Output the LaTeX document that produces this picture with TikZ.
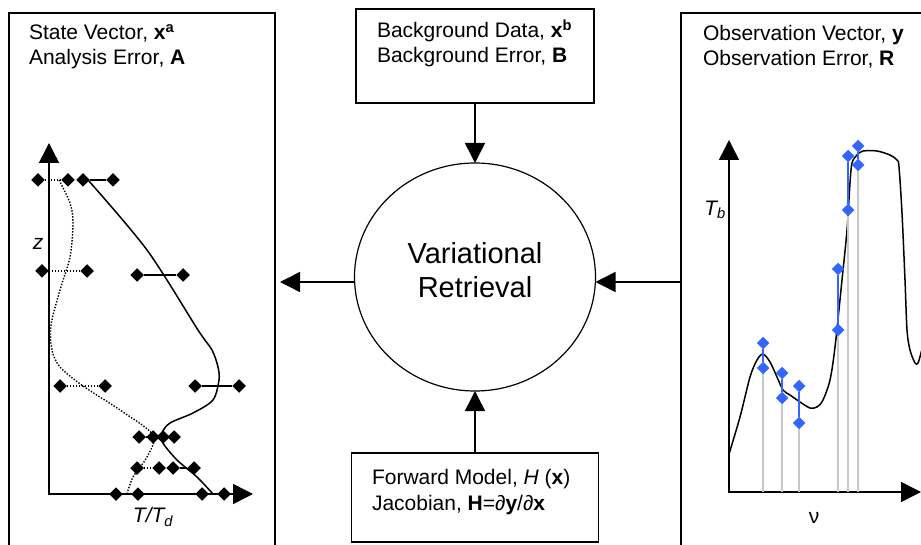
\documentclass[tikz,border=0pt]{standalone}
\usepackage{fontspec}
\setmainfont{Liberation Sans}
\usepackage{tikz}
\usetikzlibrary{positioning,calc,arrows.meta,shapes.geometric}
\definecolor{obsblue}{RGB}{51,102,255}
\definecolor{stickgray}{RGB}{200,200,200}

\begin{document}
\begin{tikzpicture}[x=1pt,y=-1pt,every node/.style={outer sep=0pt},
        box/.style={draw,rectangle,line width=1.2pt,inner sep=0pt},
        txt/.style={anchor=base west,inner sep=0pt,font=\fontsize{21}{25}\selectfont},
        lbl/.style={inner sep=0pt,font=\fontsize{21}{25}\selectfont\itshape},
        conn/.style={line width=1.5pt,-{Triangle[length=20pt,width=20pt]}},
        axes/.style={line width=1.5pt,{Triangle[length=20pt,width=20pt]}-{Triangle[length=20pt,width=20pt]}},
        dia/.style={diamond,fill=black,inner sep=0pt,minimum size=13.5pt},
        obs/.style={diamond,fill=obsblue,inner sep=0pt,minimum size=12.5pt},
        dotline/.style={line width=1.4pt,dash pattern=on 1.4pt off 1.6pt},
        stick/.style={line width=1.5pt,stickgray},
        bar/.style={line width=1.5pt,obsblue}]
   \useasboundingbox (0,0) rectangle (921,545);

   \node (vr) [draw,ellipse,line width=1.2pt,minimum width=241pt,minimum height=228pt,align=center,
      text depth=14pt,font=\fontsize{29}{34}\selectfont] at (475,277) {Variational\\Retrieval};
   \node (bg) [box,minimum width=238pt,minimum height=94pt,above=60pt of vr] {};
   \node (fm) [box,minimum width=247pt,minimum height=89pt,below=62pt of vr] {};
   \node (sv) [box,minimum width=266pt,minimum height=560pt,anchor=north west] at (9,13) {};
   \node (ov) [box,minimum width=260pt,minimum height=560pt,anchor=north west] at (681,13) {};

   \node[txt] (sv-1) at (29,40) {State Vector, \textbf{x}\textsuperscript{\textbf{a}}};
   \node[txt] (sv-2) at (29,65) {Analysis Error, \textbf{A}};
   \node[txt] (bg-1) at (377,38) {Background Data, \textbf{x}\textsuperscript{\textbf{b}}};
   \node[txt] (bg-2) at (377,63) {Background Error, \textbf{B}};
   \node[txt] (fm-1) at (372,484) {Forward Model, \textit{H} (\textbf{x})};
   \node[txt] (fm-2) at (372,510) {Jacobian, \textbf{H}=∂\textbf{y}/∂\textbf{x}};
   \node[txt] (ov-1) at (703,41) {Observation Vector, \textbf{y}};
   \node[txt] (ov-2) at (703,66) {Observation Error, \textbf{R}};

   \coordinate (vr-w) at ([yshift=-5pt]vr.west);
   \coordinate (vr-e) at ([yshift=-5pt]vr.east);
   \draw[conn,shorten >=5pt] (vr-w) -- (sv.east |- vr-w);
   \draw[conn] (ov.west |- vr-e) -- (vr-e);
   \draw[conn] (bg) -- (vr);
   \draw[conn] (fm) -- (vr);

   \coordinate (z-top) at (49,143);
   \coordinate (t-end) at (253,494);
   \draw[axes] (z-top) |- (t-end);
   \node[lbl] (z) at (38,244) {z};
   \node[lbl] (t) at (153,517) {T/T\textsubscript{d}};
   \draw[dotline] plot[smooth] coordinates {(59,180) (70,203) (73,223) (70,257) (60,290) (51,325) (52,350)
      (60,367) (83,386) (120,410) (153,435) (147,457) (133,477) (127,494)};
   \draw[line width=1.5pt] plot[smooth] coordinates {(88,180) (147,250) (198,330) (212,350) (218,367)
      (219,380) (213,400) (193,413) (170,423) (162,433) (163,443) (177,460) (197,477) (213,494)};
   \foreach \n/\a/\b/\y in {1/83/113/180,2/137/183/275,3/195/239/386,4/153/174/437,5/173/194/468,6/202/224/494}{
      \node[dia] (al\n) at (\a,\y) {};
      \node[dia] (ar\n) at (\b,\y) {};
      \draw[line width=1.5pt] (al\n) -- (ar\n);
   }
   \foreach \n/\a/\b/\y in {1/38/68/180,2/42/87/271,3/60/105/386,4/139/163/437,5/137/159/468,6/116/138/494}{
      \node[dia] (bl\n) at (\a,\y) {};
      \node[dia] (br\n) at (\b,\y) {};
      \draw[dotline] (bl\n) -- (br\n);
   }

   \coordinate (tb-top) at (729,140);
   \coordinate (nu-end) at (921,492);
   \draw[axes] (tb-top) |- (nu-end);
   \node[lbl] (tb) at (715,210) {T\textsubscript{b}};
   \node[lbl,font=\fontsize{21}{25}\selectfont] (nu) at (814,518) {ν};
   \draw[line width=1.5pt] plot[smooth,tension=0.5] coordinates {(729,454) (740,417) (750,377) (757,360)
      (763,354) (770,362) (777,377) (783,390) (790,395) (800,402) (810,408) (817,407) (823,400) (830,380)
      (835,347) (842,280) (847,230) (850,183) (852,163) (857,155) (863,151) (877,151) (890,155) (897,160)
      (899,167) (902,213) (905,280) (907,330) (910,350) (915,363) (918,363) (921,353) (923,345)};
   \foreach \n/\x/\a/\b in {1/763/343/368,2/782/373/398,3/799/386/423,4/838/269/330,5/848/156/210,6/858/146/165}{
      \node[obs] (hi\n) at (\x,\a) {};
      \node[obs] (lo\n) at (\x,\b) {};
      \draw[stick] (lo\n |- nu-end) -- (lo\n);
      \draw[bar] (hi\n) -- (lo\n);
   }
\end{tikzpicture}
\end{document}
